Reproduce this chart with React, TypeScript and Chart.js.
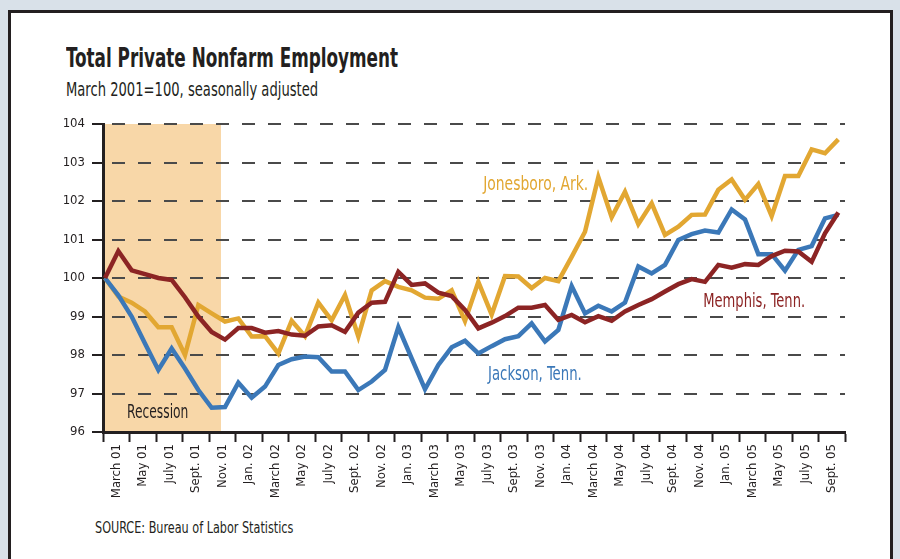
import React, { useEffect, useRef } from "react";
import { Chart, registerables } from "chart.js";

Chart.register(...registerables);

// Two-month bands on the time axis (March 2001 .. Sept./Oct. 2005)
const TICK_LABELS = [
  "March 01", "May 01", "July 01", "Sept. 01", "Nov. 01",
  "Jan. 02", "March 02", "May 02", "July 02", "Sept. 02", "Nov. 02",
  "Jan. 03", "March 03", "May 03", "July 03", "Sept. 03", "Nov. 03",
  "Jan. 04", "March 04", "May 04", "July 04", "Sept. 04", "Nov. 04",
  "Jan. 05", "March 05", "May 05", "July 05", "Sept. 05",
];

const Y_TICKS_MIN = 96;
const Y_TICKS_MAX = 104;

// Monthly index values, March 2001 = 100 (one value per month)
const MEMPHIS = [
  100.0, 100.7, 100.2, 100.1, 100.0, 99.95, 99.5, 99.0, 98.6, 98.4,
  98.7, 98.7, 98.58, 98.62, 98.53, 98.5, 98.74, 98.77, 98.6, 99.1,
  99.36, 99.38, 100.16, 99.82, 99.86, 99.62, 99.53, 99.17, 98.69, 98.84,
  99.01, 99.23, 99.23, 99.3, 98.91, 99.04, 98.85, 99.01, 98.89, 99.13,
  99.3, 99.45, 99.65, 99.84, 99.97, 99.9, 100.34, 100.27, 100.36, 100.34,
  100.57, 100.71, 100.69, 100.42, 101.16, 101.7,
];

const JACKSON = [
  100.0, 99.55, 99.0, 98.3, 97.61, 98.17, 97.65, 97.09, 96.63, 96.65,
  97.28, 96.89, 97.18, 97.74, 97.89, 97.96, 97.94, 97.57, 97.57, 97.09,
  97.31, 97.61, 98.72, 97.91, 97.11, 97.74, 98.2, 98.37, 98.04, 98.23,
  98.41, 98.49, 98.82, 98.35, 98.65, 99.79, 99.08, 99.28, 99.13, 99.36,
  100.3, 100.12, 100.34, 100.99, 101.14, 101.23, 101.18, 101.78, 101.52, 100.62,
  100.62, 100.19, 100.73, 100.83, 101.55, 101.64,
];

const JONESBORO = [
  100.0, 99.52, 99.36, 99.13, 98.72, 98.72, 98.0, 99.3, 99.08, 98.87,
  98.95, 98.48, 98.49, 98.04, 98.89, 98.49, 99.36, 98.9, 99.56, 98.48,
  99.68, 99.92, 99.77, 99.68, 99.49, 99.46, 99.68, 98.88, 99.9, 99.05,
  100.05, 100.04, 99.74, 100.0, 99.92, 100.55, 101.2, 102.62, 101.58, 102.24,
  101.4, 101.94, 101.12, 101.33, 101.64, 101.65, 102.29, 102.56, 102.03, 102.44,
  101.61, 102.65, 102.65, 103.34, 103.24, 103.6,
];

const SERIES_NAMES = ["Memphis, Tenn.", "Jackson, Tenn.", "Jonesboro, Ark."];

// Recession band, in month index units (March 2001 .. end of Nov. 2001)
const RECESSION_END = 8.7;

const COLORS = {
  memphis: "#8c2424",
  jackson: "#3b78b8",
  jonesboro: "#e2a732",
  recession: "#f8d7a8",
  ink: "#231f20",
  grid: "#4a4a4a",
};

const FONT = '"Liberation Sans Narrow", "DejaVu Sans Condensed", "Arial Narrow", sans-serif';

// In-chart text labels (anchored in data coordinates)
const ANNOTATIONS = [
  { text: "Jonesboro, Ark.", x: 28.36, y: 102.29, color: COLORS.jonesboro, sx: 0.86 },
  { text: "Jackson, Tenn.", x: 28.73, y: 97.35, color: COLORS.jackson, sx: 0.82 },
  { text: "Memphis, Tenn.", x: 44.86, y: 99.25, color: COLORS.memphis, sx: 0.81 },
  { text: "Recession", x: 1.65, y: 96.36, color: COLORS.ink, sx: 0.76 },
];

const toPoints = (arr: number[]) => arr.map((v, i) => ({ x: i, y: v }));

const recessionPlugin = {
  id: "recession",
  beforeDraw(chart: any) {
    const { ctx, chartArea } = chart;
    const xs = chart.scales.xd;
    const x1 = chartArea.left;
    const x2 = xs.getPixelForValue(RECESSION_END);
    ctx.save();
    ctx.fillStyle = COLORS.recession;
    ctx.fillRect(x1, chartArea.top, x2 - x1, chartArea.bottom - chartArea.top);
    ctx.restore();
  },
};

const labelsPlugin = {
  id: "seriesLabels",
  afterDatasetsDraw(chart: any) {
    const { ctx } = chart;
    const xs = chart.scales.xd;
    const ys = chart.scales.y;
    ANNOTATIONS.forEach((a) => {
      const px = xs.getPixelForValue(a.x);
      const py = ys.getPixelForValue(a.y);
      ctx.save();
      ctx.translate(px, py);
      ctx.scale(a.sx, 1.12);
      ctx.font = `18px ${FONT}`;
      ctx.fillStyle = a.color;
      ctx.textAlign = "left";
      ctx.textBaseline = "alphabetic";
      ctx.fillText(a.text, 0, 0);
      ctx.restore();
    });
  },
};

export default function App() {
  const canvasRef = useRef<HTMLCanvasElement | null>(null);

  useEffect(() => {
    if (!canvasRef.current) return;
    const line = (label: string, values: number[], color: string) => ({
      label,
      data: toPoints(values),
      xAxisID: "xd",
      borderColor: color,
      borderWidth: 4.5,
      pointRadius: 0,
      tension: 0,
    });
    const chart = new Chart(canvasRef.current, {
      type: "line",
      data: {
        labels: TICK_LABELS,
        datasets: [
          line(SERIES_NAMES[0], MEMPHIS, COLORS.memphis),
          line(SERIES_NAMES[1], JACKSON, COLORS.jackson),
          line(SERIES_NAMES[2], JONESBORO, COLORS.jonesboro),
        ],
      },
      options: {
        responsive: false,
        animation: false,
        devicePixelRatio: 1,
        layout: { padding: { left: 0, top: 124, right: 55, bottom: 0 } },
        plugins: {
          legend: { display: false },
          tooltip: { enabled: false },
          title: { display: false },
        },
        scales: {
          xd: {
            type: "linear",
            display: false,
            min: -0.15,
            max: 55.5,
          },
          x: {
            type: "category",
            position: "bottom",
            labels: TICK_LABELS,
            offset: true,
            grid: {
              offset: true,
              drawOnChartArea: false,
              drawTicks: true,
              tickLength: 10,
              tickWidth: 2,
              tickColor: COLORS.ink,
            },
            border: { display: true, width: 3, color: COLORS.ink },
            ticks: {
              autoSkip: false,
              minRotation: 90,
              maxRotation: 90,
              padding: 2,
              color: COLORS.ink,
              font: { family: FONT, size: 13 },
            },
            afterFit: (s: any) => {
              s.height = 127;
            },
          },
          y: {
            type: "linear",
            min: Y_TICKS_MIN,
            max: Y_TICKS_MAX,
            ticks: {
              stepSize: 1,
              padding: 7,
              color: COLORS.ink,
              font: { family: FONT, size: 13 },
            },
            grid: {
              color: COLORS.grid,
              lineWidth: 2,
              drawTicks: true,
              tickLength: 11,
              tickWidth: 2,
              tickColor: COLORS.ink,
              tickBorderDash: [],
            },
            border: { display: true, width: 3, color: COLORS.ink, dash: [13, 13], dashOffset: 19 },
            afterFit: (s: any) => {
              s.width = 103;
            },
          },
        },
      },
      plugins: [recessionPlugin, labelsPlugin],
    } as any);
    return () => chart.destroy();
  }, []);

  const textBase: React.CSSProperties = {
    position: "absolute",
    whiteSpace: "nowrap",
    transformOrigin: "left top",
    color: COLORS.ink,
    fontFamily: FONT,
  };

  return (
    <div
      style={{
        position: "fixed",
        left: 0,
        top: 0,
        width: 900,
        height: 559,
        background: "#d9e1e9",
        overflow: "hidden",
      }}
    >
      <div
        style={{
          position: "absolute",
          left: 8,
          top: 10,
          width: 885,
          height: 620,
          boxSizing: "border-box",
          border: "3px solid #231f20",
          background: "#ffffff",
        }}
      />
      <div
        style={{
          ...textBase,
          left: 66,
          top: 44,
          fontSize: 27,
          lineHeight: "27px",
          fontWeight: "bold",
          transform: "scaleX(0.693)",
        }}
      >
        Total Private Nonfarm Employment
      </div>
      <div
        style={{
          ...textBase,
          left: 66,
          top: 80,
          fontSize: 19,
          lineHeight: "19px",
          transform: "scaleX(0.768)",
        }}
      >
        March 2001=100, seasonally adjusted
      </div>
      <div
        style={{
          ...textBase,
          left: 95,
          top: 520,
          fontSize: 16,
          lineHeight: "16px",
          transform: "scaleX(0.78)",
        }}
      >
        SOURCE: Bureau of Labor Statistics
      </div>
      <canvas
        ref={canvasRef}
        width={900}
        height={559}
        style={{ position: "absolute", left: 0, top: 0, width: 900, height: 559 }}
      />
    </div>
  );
}
